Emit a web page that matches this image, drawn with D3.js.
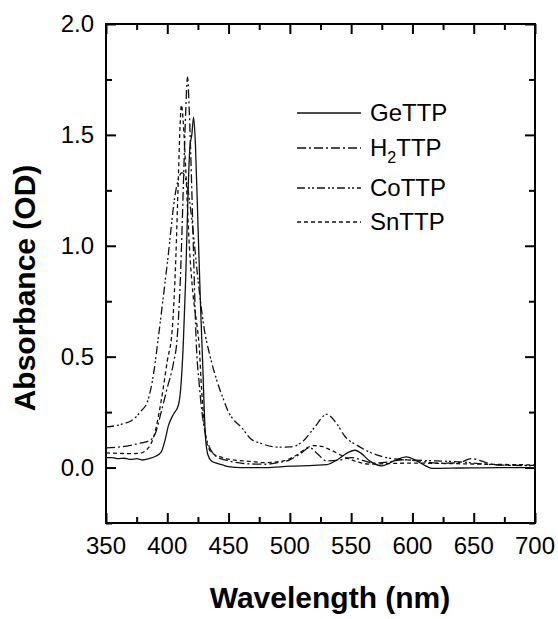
<!DOCTYPE html>
<html lang="en">
<head>
    <meta charset="UTF-8">
    <title>Absorbance spectra</title>
    <script src="https://d3js.org/d3.v7.min.js"></script>
    <style>
        body { margin: 0; background: #fff; }
        text { font-family: "Liberation Sans", Arial, sans-serif; fill: #000; }
    </style>
</head>
<body>
<script>
    const width = 558;
    const height = 619;

    // spectra: [wavelength (nm), absorbance (OD)]
    const geTTP = [[350,0.045],[355,0.045],[360,0.040],[365,0.042],[370,0.037],[375,0.040],[380,0.034],[385,0.040],
        [390,0.050],[395,0.070],[398,0.12],[401,0.19],[405,0.24],[409,0.28],[411,0.36],[413,0.55],[415,0.85],
        [417,1.25],[418.5,1.45],[420,1.50],[421.5,1.58],[423,1.45],[425,1.10],[427,0.75],[429,0.45],[431,0.15],
        [433,0.06],[436,0.03],[440,0.02],[445,0.012],[450,0.004],[460,0.0],[480,0.0],[500,0.006],[520,0.01],
        [530,0.013],[540,0.04],[548,0.07],[553,0.078],[558,0.065],[565,0.03],[575,0.008],[585,0.03],[595,0.048],
        [602,0.035],[610,0.01],[616,-0.004],[640,-0.002],[670,0.0],[700,0.0]];
    const h2TTP = [[350,0.089],[360,0.092],[370,0.10],[378,0.11],[385,0.12],[390,0.15],[395,0.25],[400,0.36],
        [405,0.47],[408,0.58],[411,0.90],[413,1.25],[415,1.60],[416.5,1.76],[418,1.60],[420,1.25],[422,0.85],
        [423.5,0.58],[426,0.38],[429,0.22],[432,0.13],[436,0.075],[440,0.05],[450,0.03],[460,0.02],[470,0.016],
        [480,0.015],[490,0.022],[500,0.035],[508,0.06],[516,0.09],[522,0.065],[530,0.03],[540,0.033],[550,0.045],
        [558,0.035],[568,0.02],[580,0.025],[592,0.035],[605,0.03],[620,0.02],[638,0.022],[648,0.04],[656,0.03],
        [665,0.015],[680,0.01],[700,0.01]];
    const coTTP = [[350,0.183],[362,0.194],[372,0.216],[378.5,0.254],[384,0.30],[389,0.43],[393,0.60],[400,0.92],
        [407,1.25],[412,1.33],[416,1.28],[420,1.12],[425,0.85],[430,0.63],[435,0.50],[440,0.40],[445,0.32],
        [450,0.25],[455,0.21],[460,0.185],[468,0.13],[476,0.11],[490,0.092],[500,0.093],[510,0.115],[520,0.18],
        [530,0.24],[538,0.20],[545,0.14],[555,0.10],[565,0.07],[575,0.05],[592,0.036],[620,0.03],[640,0.025],
        [660,0.015],[680,0.01],[700,0.008]];
    const snTTP = [[350,0.066],[360,0.064],[370,0.063],[378,0.065],[384,0.085],[389,0.14],[395,0.30],[400,0.48],
        [404,0.62],[407,0.95],[409,1.30],[410.5,1.55],[411.5,1.635],[413,1.56],[415,1.35],[418,1.0],[421,0.78],
        [424,0.65],[426,0.55],[428,0.35],[431,0.15],[434,0.085],[438,0.06],[445,0.045],[452,0.036],[468,0.028],
        [479,0.022],[493,0.028],[506,0.058],[513,0.085],[519,0.099],[526,0.095],[533,0.08],[546,0.044],
        [556,0.025],[565,0.015],[580,0.018],[600,0.02],[630,0.018],[660,0.015],[700,0.012]];

    const seriesNames = ["GeTTP", "H2TTP", "CoTTP", "SnTTP"];
    const seriesData  = [geTTP, h2TTP, coTTP, snTTP];
    const dashes      = ["none", "9,3,2,3", "8,3,2,2,2,3", "4,3"];

    const xTicks = [350, 400, 450, 500, 550, 600, 650, 700];
    const yTicks = [0.0, 0.5, 1.0, 1.5, 2.0];

    const margin = {left: 106, right: 23, top: 24, bottom: 96};

    const svg = d3.select("body").append("svg")
            .attr("width", width).attr("height", height);

    const x = d3.scaleLinear().domain([350, 700])
            .range([margin.left, width - margin.right]);
    const y = d3.scaleLinear().domain([-0.25, 2.0])
            .range([height - margin.bottom, margin.top]);

    const minorX = d3.range(375, 700, 50);
    const minorY = [-0.25, 0.25, 0.75, 1.25, 1.75];

    // inward ticks on all four sides
    function tickAxis(axisFn, scale, values, size) {
        return axisFn(scale).tickValues(values).tickSize(size).tickFormat("");
    }
    const x0 = y.range()[0], x1 = y.range()[1];

    svg.append("g").attr("transform", `translate(0,${x0})`)
            .call(tickAxis(d3.axisTop, x, xTicks, 10));
    svg.append("g").attr("transform", `translate(0,${x0})`)
            .call(tickAxis(d3.axisTop, x, minorX, 6));
    svg.append("g").attr("transform", `translate(0,${x1})`)
            .call(tickAxis(d3.axisBottom, x, xTicks, 10));
    svg.append("g").attr("transform", `translate(0,${x1})`)
            .call(tickAxis(d3.axisBottom, x, minorX, 6));
    svg.append("g").attr("transform", `translate(${x.range()[0]},0)`)
            .call(tickAxis(d3.axisRight, y, yTicks, 10));
    svg.append("g").attr("transform", `translate(${x.range()[0]},0)`)
            .call(tickAxis(d3.axisRight, y, minorY, 6));
    svg.append("g").attr("transform", `translate(${x.range()[1]},0)`)
            .call(tickAxis(d3.axisLeft, y, yTicks, 10));
    svg.append("g").attr("transform", `translate(${x.range()[1]},0)`)
            .call(tickAxis(d3.axisLeft, y, minorY, 6));

    svg.selectAll(".domain").remove();
    svg.selectAll(".tick line").style("stroke", "#000").style("stroke-width", 2);

    // frame
    svg.append("rect")
            .attr("x", x.range()[0]).attr("y", y.range()[1])
            .attr("width", x.range()[1] - x.range()[0])
            .attr("height", y.range()[0] - y.range()[1])
            .style("fill", "none").style("stroke", "#000").style("stroke-width", 2);

    // tick labels
    svg.append("g").selectAll("text").data(xTicks).enter().append("text")
            .attr("x", d => x(d)).attr("y", 554)
            .attr("text-anchor", "middle")
            .style("font-size", "24px")
            .text(d => d);
    svg.append("g").selectAll("text").data(yTicks).enter().append("text")
            .attr("x", 94).attr("y", d => y(d))
            .attr("dy", "0.35em")
            .attr("text-anchor", "end")
            .style("font-size", "24px")
            .text(d => d.toFixed(1));

    // axis titles
    svg.append("text")
            .attr("x", 330).attr("y", 608)
            .attr("text-anchor", "middle")
            .style("font-size", "30px").style("font-weight", "bold")
            .text("Wavelength (nm)");
    svg.append("text")
            .attr("transform", "translate(35,288) rotate(-90)")
            .attr("text-anchor", "middle")
            .style("font-size", "30px").style("font-weight", "bold")
            .text("Absorbance (OD)");

    // spectra
    const line = d3.line()
            .x(d => x(d[0])).y(d => y(d[1]))
            .curve(d3.curveMonotoneX);

    svg.append("g").selectAll("path").data(seriesData).enter().append("path")
            .attr("d", line)
            .style("fill", "none")
            .style("stroke", "#111")
            .style("stroke-width", 1.3)
            .style("stroke-dasharray", (d, i) => dashes[i]);

    // legend
    const legendY = [113, 148, 188, 222];
    const legend = svg.append("g").selectAll("g").data(seriesNames).enter().append("g")
            .attr("transform", (d, i) => `translate(0,${legendY[i]})`);

    legend.append("line")
            .attr("x1", 297).attr("x2", 361)
            .style("stroke", "#111").style("stroke-width", 1.3)
            .style("stroke-dasharray", (d, i) => dashes[i]);

    const lt = legend.append("text")
            .attr("x", 370).attr("dy", "0.35em")
            .style("font-size", "24px");
    lt.each(function(d) {
        const t = d3.select(this);
        if (d === "H2TTP") {
            t.append("tspan").text("H");
            t.append("tspan").attr("dy", 7).style("font-size", "16px").text("2");
            t.append("tspan").attr("dy", -7).text("TTP");
        } else {
            t.text(d);
        }
    });
</script>
</body>
</html>
